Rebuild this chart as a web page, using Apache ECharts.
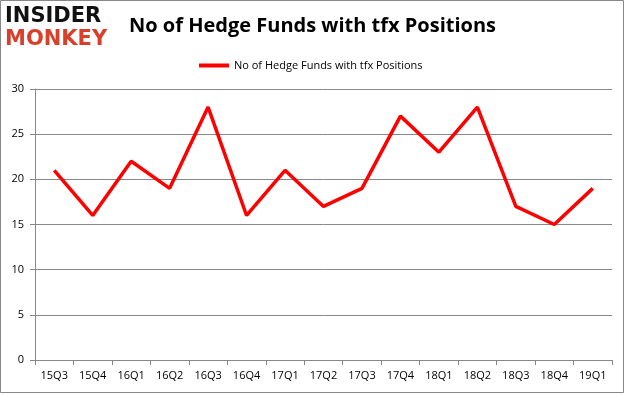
<!DOCTYPE html>
<html><head><meta charset="utf-8">
<script src="https://cdn.jsdelivr.net/npm/echarts@6/dist/echarts.min.js"></script>
<style>html,body{margin:0;padding:0;background:#fff}#c{width:625px;height:395px}</style>
</head><body><div id="c"></div>
<script>
const categories = ['15Q3','15Q4','16Q1','16Q2','16Q3','16Q4','17Q1','17Q2','17Q3','17Q4','18Q1','18Q2','18Q3','18Q4','19Q1'];
const hedgeFunds = [21,16,22,19,28,16,21,17,19,27,23,28,17,15,19];
const yTicks = {min:0, max:30, interval:5};
const seriesName = 'No of Hedge Funds with tfx Positions';
const titleText = 'No of Hedge Funds with tfx Positions';

const chart = echarts.init(document.getElementById('c'));
const font = '"Open Sans", "Liberation Sans", sans-serif';
chart.setOption({
  animation:false,
  title:{text:titleText,left:'center',top:11,textStyle:{fontFamily:font,fontWeight:'bold',fontSize:20,color:'#000'}},
  legend:{data:[seriesName],top:55,left:194,itemWidth:30,itemHeight:4,itemGap:2,icon:'rect',
    textStyle:{fontFamily:font,fontSize:11,color:'#000'}},
  grid:{left:35,right:13,top:89,bottom:35,containLabel:false},
  xAxis:{type:'category',data:categories,boundaryGap:true,
    axisLine:{lineStyle:{color:'#888'}},axisTick:{show:true,alignWithLabel:false,lineStyle:{color:'#888'}},
    axisLabel:{fontFamily:font,fontSize:11,color:'#000',margin:10,interval:0}},
  yAxis:{type:'value',min:yTicks.min,max:yTicks.max,interval:yTicks.interval,
    axisLine:{show:true,lineStyle:{color:'#888'}},axisTick:{show:true,length:5,lineStyle:{color:'#888'}},
    splitLine:{lineStyle:{color:'#888'}},
    axisLabel:{fontFamily:font,fontSize:11,color:'#000',margin:11}},
  series:[{name:seriesName,type:'line',data:hedgeFunds,symbol:'none',
    lineStyle:{color:'#ff0000',width:3.5},itemStyle:{color:'#ff0000'}}],
  graphic:[
    {type:'rect',shape:{x:0.5,y:0.5,width:623,height:392},style:{fill:'none',stroke:'#888',lineWidth:1}},
    {type:'text',left:5,top:6,style:{text:'INSIDER',font:'bold 21px "DejaVu Sans", sans-serif',fill:'#111'}},
    {type:'text',left:5,top:29,style:{text:'MONKEY',font:'bold 21px "DejaVu Sans", sans-serif',fill:'#d9402b'}}
  ]
});
</script></body></html>
